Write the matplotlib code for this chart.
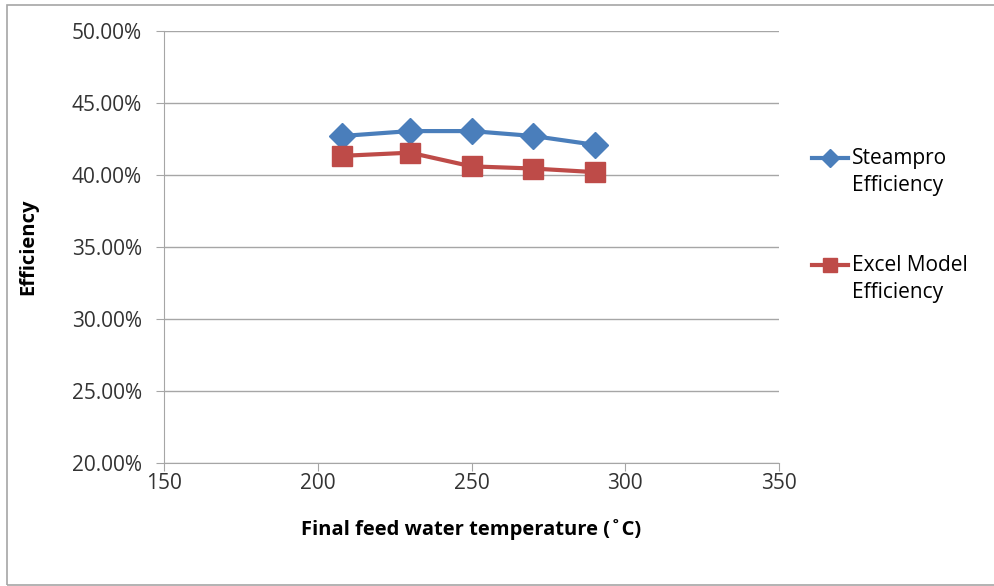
import matplotlib
matplotlib.use("Agg")
import matplotlib.pyplot as plt
from matplotlib.lines import Line2D
from matplotlib.patches import Rectangle
from matplotlib.ticker import FuncFormatter

# feed water temperature (deg C) and cycle efficiency (%)
temps = [208, 230, 250, 270, 290]
steampro_eff = [42.71, 43.05, 43.05, 42.71, 42.10]
excel_eff = [41.33, 41.55, 40.60, 40.45, 40.20]

plt.rcParams["font.family"] = ["Open Sans", "DejaVu Sans"]

W, H = 995, 586
fig = plt.figure(figsize=(W / 100, H / 100), dpi=100)
ax = fig.add_axes([164 / W, 1 - 463 / H, (779 - 164) / W, (463 - 31) / H])

# thin grey frame around the whole chart area
fig.patches.append(Rectangle((7 / W, 1 / H), 1.0, 580 / H, transform=fig.transFigure,
                             fill=False, edgecolor="#a6a6a6", linewidth=1.2))

series = [
    (steampro_eff, "D", "#4a7ebb", 13, 9, "Steampro\nEfficiency", 158),
    (excel_eff, "s", "#be4b48", 14, 10, "Excel Model\nEfficiency", 265),
]
for vals, mk, col, ms, ms_leg, label, ypix in series:
    ax.plot(temps, vals, "-" + mk, color=col, linewidth=3, markersize=ms)
    # legend entry: handle lines up with the first line of its label
    y = 1 - ypix / H
    fig.add_artist(Line2D([812 / W, 848 / W], [y, y], transform=fig.transFigure,
                          color=col, linewidth=3))
    fig.add_artist(Line2D([830 / W], [y], transform=fig.transFigure, marker=mk,
                          color=col, markersize=ms_leg, linestyle="none"))
    fig.text(852 / W, y + 10 / H, label, fontsize=15, va="top", ha="left",
             linespacing=1.4, transform=fig.transFigure)

ax.set_xlim(150, 350)
ax.set_ylim(20, 50)
ax.set_xticks(range(150, 351, 50))
ax.set_yticks(range(20, 51, 5))
ax.yaxis.set_major_formatter(FuncFormatter(lambda v, _: f"{v:.2f}%"))
ax.grid(axis="y", color="#a6a6a6", linewidth=1)
ax.set_axisbelow(True)
for s in ("top", "right"):
    ax.spines[s].set_visible(False)
for s in ("left", "bottom"):
    ax.spines[s].set_color("#a6a6a6")
ax.tick_params(colors="#a6a6a6", labelcolor="#333333", labelsize=15, length=6)
ax.tick_params(axis="y", pad=10)
ax.tick_params(axis="x", pad=1)

ax.set_xlabel("Final feed water temperature (\u02daC)", fontsize=14.5, fontweight="bold")
ax.set_ylabel("Efficiency", fontsize=14.5, fontweight="bold")
ax.xaxis.set_label_coords(0.5, -0.13)
ax.yaxis.set_label_coords(-0.205, 0.5)

fig.savefig("out.png", dpi=100)
